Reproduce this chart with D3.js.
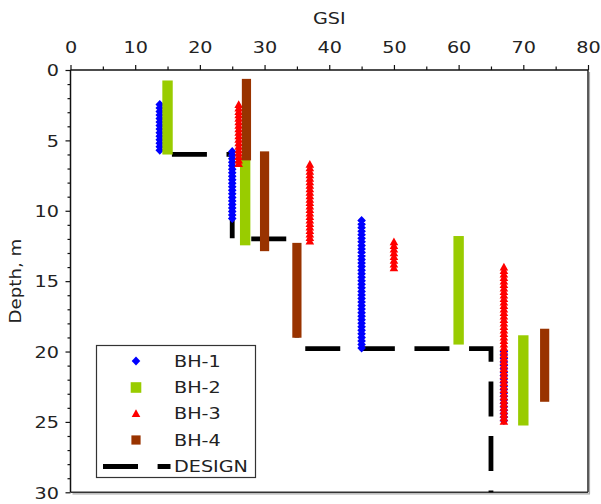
<!DOCTYPE html>
<html><head><meta charset="utf-8">
<script src="https://cdn.jsdelivr.net/npm/d3@7"></script>
<style>
html,body{margin:0;padding:0;background:#fff;}
text{font-family:"DejaVu Sans",Verdana,sans-serif;fill:#222;}
</style></head>
<body><div id="chart"></div>
<script>
// ---- data ----
const gsiTicks = [0, 10, 20, 30, 40, 50, 60, 70, 80];
const gsiMinor = [5, 15, 25, 35, 45, 55, 65, 75];
const depthTicks = [0, 5, 10, 15, 20, 25, 30];
const depthMinor = [1,2,3,4,6,7,8,9,11,12,13,14,16,17,18,19,21,22,23,24,26,27,28,29];
// [GSI, top depth, bottom depth] of each measured interval
const bh1 = [[13.8, 2.45, 5.7], [25.0, 5.8, 10.55], [45.0, 10.7, 19.75], [67.0, 20.0, 24.9]];
const bh2 = [[15.0, 1.1, 5.65], [27.0, 6.5, 12.1], [60.0, 12.15, 19.15], [70.0, 19.2, 24.9]];
const bh3 = [[26.0, 2.45, 6.65], [37.0, 6.7, 12.15], [50.0, 12.2, 14.05], [67.0, 14.0, 24.95]];
const bh4 = [[27.2, 0.95, 6.1], [30.0, 6.1, 12.55], [35.0, 12.6, 18.7], [73.3, 18.7, 23.25]];
const designGSI = [15.6, 25, 25, 35, 35, 65, 65];
const designDepth = [6, 6, 12, 12, 19.8, 19.8, 30];
const legendNames = ["BH-1", "BH-2", "BH-3", "BH-4", "DESIGN"];

const W = 601, H = 504;
const FS = 16, SX = 1.2;
const x = d3.scaleLinear([0, 80], [70.5, 588]);
const y = d3.scaleLinear([0, 30], [70, 492.3]);
const svg = d3.select("#chart").append("svg").attr("width", W).attr("height", H);

// axes
const topAx = svg.append("g").attr("transform", `translate(0,${y(0)})`)
  .call(d3.axisTop(x).tickValues(gsiTicks).tickSize(5).tickPadding(12));
topAx.select(".domain").remove();
topAx.selectAll("text").attr("font-size", FS).style("font-family", '"DejaVu Sans"').attr("y", -17.3)
  .attr("transform", `scale(${SX},1)`);
const topMin = svg.append("g").attr("transform", `translate(0,${y(0)})`)
  .call(d3.axisTop(x).tickValues(gsiMinor).tickSize(3.5).tickFormat(""));
topMin.select(".domain").remove();

const leftAx = svg.append("g").attr("transform", `translate(${x(0)},0)`)
  .call(d3.axisLeft(y).tickValues(depthTicks).tickSize(5).tickPadding(5));
leftAx.select(".domain").remove();
leftAx.selectAll("text").attr("font-size", FS).style("font-family", '"DejaVu Sans"')
  .attr("x", -11.5 / SX).attr("dy", "0.36em").attr("transform", `scale(${SX},1)`);
const leftMin = svg.append("g").attr("transform", `translate(${x(0)},0)`)
  .call(d3.axisLeft(y).tickValues(depthMinor).tickSize(3).tickFormat(""));
leftMin.select(".domain").remove();
svg.selectAll(".tick line").attr("stroke", "#111").attr("stroke-width", 1.2);

// frame
svg.append("line").attr("x1", x(80) + 1.5).attr("x2", x(80) + 1.5).attr("y1", y(0) + 2).attr("y2", y(30) + 1.5).attr("stroke", "#aaa").attr("stroke-width", 1.2);
svg.append("line").attr("x1", x(0) + 2).attr("x2", x(80) + 2).attr("y1", y(30) + 1.5).attr("y2", y(30) + 1.5).attr("stroke", "#aaa").attr("stroke-width", 1.2);
svg.append("line").attr("x1", x(80)).attr("x2", x(80)).attr("y1", y(0)).attr("y2", y(30)).attr("stroke", "#333").attr("stroke-width", 1.6);
svg.append("line").attr("x1", x(0)).attr("x2", x(80)).attr("y1", y(30)).attr("y2", y(30)).attr("stroke", "#333").attr("stroke-width", 1.6);
svg.append("line").attr("x1", x(0)).attr("x2", x(80)).attr("y1", y(0)).attr("y2", y(0)).attr("stroke", "#111").attr("stroke-width", 1.5);
svg.append("line").attr("x1", x(0)).attr("x2", x(0)).attr("y1", y(0)).attr("y2", y(30)).attr("stroke", "#111").attr("stroke-width", 1.5);

// titles
svg.append("text").attr("transform", `translate(${(x(0) + x(80)) / 2},24) scale(${SX},1)`)
  .attr("text-anchor", "middle").attr("font-size", FS).text("GSI");
svg.append("text").attr("transform", `translate(21,${(y(0) + y(30)) / 2}) rotate(-90) scale(1.14,1)`)
  .attr("text-anchor", "middle").attr("font-size", FS).text("Depth, m");

// design line
const designPts = designGSI.map((g, i) => [x(g), y(designDepth[i])]);
svg.append("path").attr("d", d3.line()(designPts)).attr("fill", "none").attr("stroke", "#000")
  .attr("stroke-width", 4.8).attr("stroke-dasharray", "35,19.6").attr("stroke-dashoffset", -0.5)
  .attr("stroke-linejoin", "miter");

// marker column paths
const STEP = 3.5;
function diamond(cx, cy) { const w = 4.3, h = 4.6; return `M${cx},${cy - h}L${cx + w},${cy}L${cx},${cy + h}L${cx - w},${cy}Z`; }
function tri(cx, cy) { const w = 4.3, h = 4.3; return `M${cx},${cy - h}L${cx + w},${cy + h * 0.8}L${cx - w},${cy + h * 0.8}Z`; }
function column(seg, fn) {
  const cx = x(seg[0]), y0 = y(seg[1]), y1 = y(seg[2]);
  const n = Math.max(1, Math.round((y1 - y0) / STEP));
  let d = "";
  for (let i = 0; i <= n; i++) d += fn(cx, y0 + (y1 - y0) * i / n);
  return d;
}
svg.append("g").selectAll("path").data(bh1).join("path").attr("d", s => column(s, diamond)).attr("fill", "#0000ff");
svg.append("g").selectAll("rect").data(bh2).join("rect")
  .attr("x", s => x(s[0]) - 5.2).attr("width", 10.4)
  .attr("y", s => y(s[1]) - 5).attr("height", s => y(s[2]) - y(s[1]) + 10).attr("fill", "#99cc00");
svg.append("g").selectAll("path").data(bh3).join("path").attr("d", s => column(s, tri)).attr("fill", "#ff0000");
svg.append("g").selectAll("rect").data(bh4).join("rect")
  .attr("x", s => x(s[0]) - 4.6).attr("width", 9.2)
  .attr("y", s => y(s[1]) - 4.5).attr("height", s => y(s[2]) - y(s[1]) + 9).attr("fill", "#993300");

// legend
const lg = svg.append("g");
lg.append("rect").attr("x", 96.5).attr("y", 345.5).attr("width", 159).attr("height", 132)
  .attr("fill", "#fff").attr("stroke", "#333").attr("stroke-width", 1.2);
const rowY = [361, 387.5, 413.5, 440, 466.5];
const mx = 136;
lg.append("path").attr("d", diamond(mx, rowY[0])).attr("fill", "#0000ff");
lg.append("rect").attr("x", mx - 5.3).attr("y", rowY[1] - 5.3).attr("width", 10.6).attr("height", 10.6).attr("fill", "#99cc00");
lg.append("path").attr("d", tri(mx, rowY[2])).attr("fill", "#ff0000");
lg.append("rect").attr("x", mx - 4.6).attr("y", rowY[3] - 4.6).attr("width", 9.2).attr("height", 9.2).attr("fill", "#993300");
lg.append("line").attr("x1", 103).attr("x2", 170.5).attr("y1", rowY[4]).attr("y2", rowY[4])
  .attr("stroke", "#000").attr("stroke-width", 4.8).attr("stroke-dasharray", "35,19.6");
lg.selectAll("text.lab").data(legendNames).join("text").attr("class", "lab")
  .attr("transform", (d, i) => `translate(174,${rowY[i] + 5.8}) scale(${SX},1)`)
  .attr("font-size", FS).text(d => d);
</script>
</body></html>
